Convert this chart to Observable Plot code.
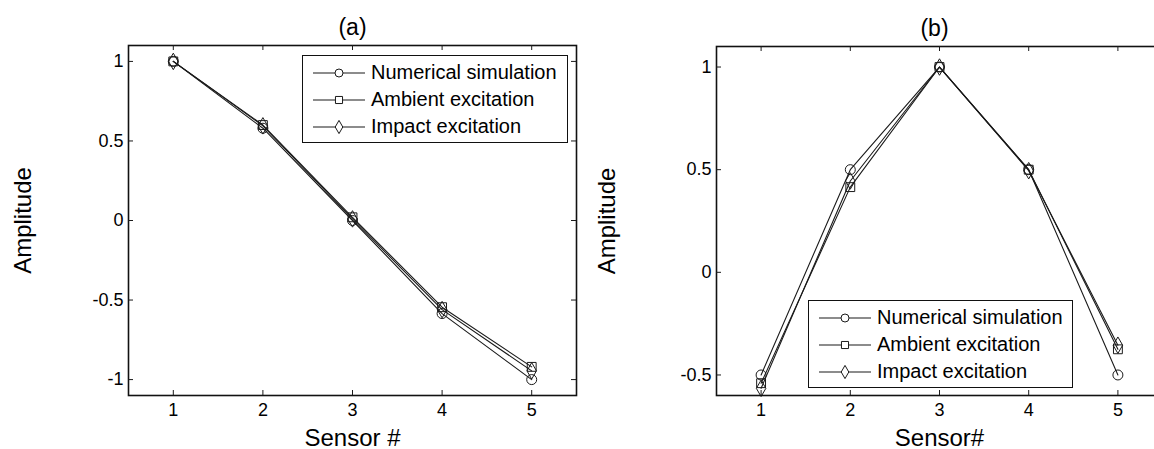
<!DOCTYPE html>
<html>
<head>
<meta charset="utf-8">
<script src="https://cdn.jsdelivr.net/npm/d3@7"></script>
<script src="https://cdn.jsdelivr.net/npm/@observablehq/plot@0.6"></script>
<style>
  html, body { margin: 0; padding: 0; background: #fff; overflow: hidden; }
  #wrap { position: relative; width: 1154px; height: 449px; overflow: hidden; font-family: "Liberation Sans", Arial, sans-serif; }
  .panel { position: absolute; top: 0; height: 449px; }
  .panel svg { max-width: none !important; }
  .legend { position: absolute; background: #fff; border: 1.5px solid #111; box-sizing: border-box; padding: 3px 0 0 10px; }
  .legend .row { display: flex; align-items: center; height: 27px; font-size: 20px; color: #000; white-space: nowrap; }
  .legend svg { margin-right: 6px; flex: none; }
</style>
</head>
<body>
<div id="wrap"></div>
<script>
// ---------- data ----------
const sensors = [1, 2, 3, 4, 5];
const seriesNames = ["Numerical simulation", "Ambient excitation", "Impact excitation"];
const seriesSymbols = ["circle", "square", "diamond"];

// panel (a)
const numA = [1.00, 0.58, 0.00, -0.585, -1.00];
const ambA = [1.00, 0.60, 0.02, -0.545, -0.92];
const impA = [1.00, 0.595, 0.01, -0.56, -0.945];
const yTicksA = [-1, -0.5, 0, 0.5, 1];

// panel (b)
const numB = [-0.50, 0.50, 1.00, 0.50, -0.50];
const ambB = [-0.54, 0.415, 1.00, 0.50, -0.375];
const impB = [-0.565, 0.445, 1.00, 0.495, -0.355];
const yTicksB = [-0.5, 0, 0.5, 1];

const xTickLabels = ["1", "2", "3", "4", "5"];

// ---------- drawing ----------
const FONT = '"Liberation Sans", Arial, sans-serif';
const INK = "#1a1a1a";

function tidy(valueArrays) {
  return valueArrays.flatMap((vals, k) =>
    sensors.map((s, i) => ({sensor: s, value: vals[i], series: seriesNames[k]})));
}

function panel({values, ydomain, yticks, left, width, mL, mR, mT, mB, title, titleDx, xlabel, ylabelDx}) {
  const data = tidy(values);
  const xdomain = [0.5, 5.5];
  const marks = [
    Plot.line(data, {x: "sensor", y: "value", z: "series", stroke: INK, strokeWidth: 1.1}),
    ...seriesNames.map((name, k) =>
      Plot.dot(data.filter(d => d.series === name), {
        x: "sensor", y: "value", symbol: () => seriesSymbols[k], r: 5,
        stroke: INK, strokeWidth: 1, fill: "none"
      })),
    Plot.frame({stroke: "#111", strokeWidth: 1.6}),
    // inward ticks on all four sides
    Plot.ruleX(sensors, {x: d => d, y1: ydomain[0], y2: ydomain[0], insetBottom: 5, stroke: INK}),
    Plot.ruleX(sensors, {x: d => d, y1: ydomain[1], y2: ydomain[1], insetTop: 5, stroke: INK}),
    Plot.ruleY(yticks, {y: d => d, x1: xdomain[0], x2: xdomain[0], insetLeft: 5, stroke: INK}),
    Plot.ruleY(yticks, {y: d => d, x1: xdomain[1], x2: xdomain[1], insetRight: 5, stroke: INK}),
    Plot.axisX(sensors, {tickSize: 0, tickPadding: 8, label: null, tickFormat: d => xTickLabels[sensors.indexOf(d)], fontSize: 18, fill: "#000"}),
    Plot.axisY(yticks, {tickSize: 0, tickPadding: 5, label: null, tickFormat: d => String(d), fontSize: 18, fill: "#000"}),
    Plot.text([title], {frameAnchor: "top", dy: -11, dx: titleDx, lineAnchor: "bottom", fontSize: 23, fill: "#000"}),
    Plot.text([xlabel], {frameAnchor: "bottom", dy: 50, lineAnchor: "bottom", fontSize: 24, fill: "#000"}),
    Plot.text(["Amplitude"], {frameAnchor: "left", dx: ylabelDx, rotate: -90, textAnchor: "middle", lineAnchor: "middle", fontSize: 24, fill: "#000"})
  ];
  const svg = Plot.plot({
    width, height: 449,
    marginLeft: mL, marginRight: mR, marginTop: mT, marginBottom: mB,
    x: {domain: xdomain, axis: null},
    y: {domain: ydomain, axis: null},
    style: {fontFamily: FONT, fontSize: "18px", color: "#000", background: "transparent", overflow: "visible", maxWidth: "none"},
    marks
  });
  const div = document.createElement("div");
  div.className = "panel";
  div.style.left = left + "px";
  div.style.width = width + "px";
  div.appendChild(svg);
  return div;
}

function legend({left, top, w, h}) {
  const div = document.createElement("div");
  div.className = "legend";
  Object.assign(div.style, {left: left + "px", top: top + "px", width: w + "px", height: h + "px"});
  seriesNames.forEach((name, k) => {
    const row = document.createElement("div");
    row.className = "row";
    const sym = d3.symbol(k === 0 ? d3.symbolCircle : k === 1 ? d3.symbolSquare : d3.symbolDiamond, Math.PI * 16)();
    row.innerHTML = `<svg width="52" height="16" viewBox="0 0 52 16">
      <line x1="0" x2="52" y1="8" y2="8" stroke="${INK}" stroke-width="1.1"/>
      <path d="${sym}" transform="translate(26,8)" fill="#fff" stroke="${INK}" stroke-width="1"/>
    </svg><span>${name}</span>`;
    div.appendChild(row);
  });
  return div;
}

const wrap = document.getElementById("wrap");
wrap.appendChild(panel({
  values: [numA, ambA, impA], ydomain: [-1.1, 1.1], yticks: yTicksA,
  left: 0, width: 600, mL: 128, mR: 24, mT: 45, mB: 54,
  title: "(a)", titleDx: 0, xlabel: "Sensor #", ylabelDx: -105
}));
wrap.appendChild(panel({
  values: [numB, ambB, impB], ydomain: [-0.6, 1.1], yticks: yTicksB,
  left: 580, width: 600, mL: 136, mR: 18, mT: 46, mB: 54,
  title: "(b)", titleDx: -5, xlabel: "Sensor#", ylabelDx: -109
}));
wrap.appendChild(legend({left: 302, top: 55, w: 266, h: 88}));
wrap.appendChild(legend({left: 808, top: 300, w: 265, h: 88}));
</script>
</body>
</html>
